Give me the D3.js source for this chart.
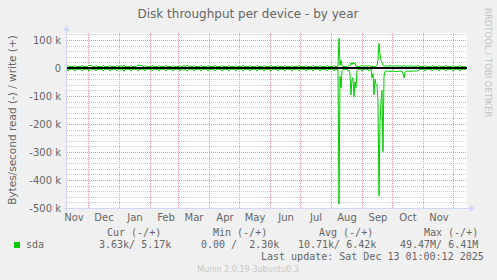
<!DOCTYPE html>
<html>
<head>
<meta charset="utf-8">
<script src="https://cdn.jsdelivr.net/npm/d3@7"></script>
<style>
  body { margin: 0; background: #f0f0f0; }
  text { white-space: pre; }
</style>
</head>
<body>
<div id="chart"></div>
<script>
// one value per day (k bytes/s), first day is 2024-11-10
var firstDay = Date.UTC(2024, 10, 10);

// write (+), one row per week
var writeK = [5,
  9,5,6,5,5,6,5,   9,5,5,6,5,5,6,   9,6,5,5,6,5,5,   10,9,9,8,5,6,5,
  9,5,6,5,5,6,5,   9,6,5,5,6,5,5,   9,5,5,6,5,5,6,   9,6,5,5,10,6,5,
  11,5,6,5,5,6,5,  9,6,5,5,6,5,9,   10,9,10,9,8,6,5, 9,5,6,5,5,6,5,
  9,6,5,5,6,5,5,   9,5,5,6,5,5,6,   9,6,5,5,6,5,5,   9,5,6,5,5,6,5,
  9,5,5,6,10,5,6,  9,10,5,5,6,5,5,  9,5,6,5,5,6,5,   9,6,5,5,6,5,5,
  9,5,5,6,5,5,6,   9,6,5,5,6,5,5,   9,5,6,5,5,6,5,   9,6,5,5,6,5,5,
  9,5,5,6,5,5,6,   9,6,5,5,6,5,5,   9,5,6,5,5,6,5,   9,6,5,5,6,5,5,
  9,5,5,6,5,5,6,   9,6,5,5,6,5,5,   9,5,6,5,5,6,5,   9,6,5,5,6,5,5,
  9,5,5,6,5,5,6,   9,6,5,5,6,5,5,   9,5,6,5,5,6,5,   9,6,5,5,6,5,5,
  9,5,5,6,5,5,6,   9,6,5,5,6,5,5,
  9,5,5,4,6,106,10, 28,8,6,5,5,4,5,  9,6,10,18,12,20,15, 18,5,8,6,5,7,6,
  9,7,8,6,8,7,6,   9,6,7,6,5,6,5,   6,8,30,88,50,28,20, 10,5,8,7,8,6,7,
  9,7,8,6,7,8,7,   9,6,7,8,6,7,6,   9,7,6,8,7,6,7,   9,6,7,6,7,6,6,
  9,6,5,6,5,6,5,   9,5,6,5,5,6,5,   9,6,5,5,6,5,5,   9,5,5,6,5,5,6,
  9,6,5,5,6,5,5,   9,5,6,5,5,6,5,   9,6,5,5,6,5,5];

// read (-), one row per week
var readK = [4,
  11,4,5,4,4,5,4,  11,4,4,5,4,4,5,  11,5,4,4,5,4,4,  11,5,4,4,5,4,4,
  11,4,5,4,4,5,4,  11,5,4,4,5,4,4,  11,4,4,5,4,4,5,  11,5,4,4,9,5,4,
  12,4,5,4,4,5,4,  11,5,4,4,5,4,4,  11,4,5,4,4,5,4,  11,4,5,4,4,5,4,
  11,5,4,4,5,4,4,  11,4,4,5,4,4,5,  11,5,4,4,5,4,4,  11,4,5,4,4,5,4,
  11,4,4,5,9,4,5,  11,9,4,4,5,4,4,  11,4,5,4,4,5,4,  11,5,4,4,5,4,4,
  11,4,4,5,4,4,5,  11,5,4,4,5,4,4,  11,4,5,4,4,5,4,  11,5,4,4,5,4,4,
  11,4,4,5,4,4,5,  11,5,4,4,5,4,4,  11,4,5,4,4,5,4,  11,5,4,4,5,4,4,
  11,4,4,5,4,4,5,  11,5,4,4,5,4,4,  11,4,5,4,4,5,4,  11,5,4,4,5,4,4,
  11,4,4,5,4,4,5,  11,5,4,4,5,4,4,  11,4,5,4,4,5,4,  11,5,4,4,5,4,4,
  11,4,4,5,4,4,5,  11,5,4,4,5,4,4,
  11,4,4,5,6,486,30, 71,10,6,5,4,5,4, 11,8,20,96,40,35,103, 50,71,10,5,4,5,4,
  11,4,5,4,5,4,5,  11,5,4,35,20,96,40, 60,60,120,456,200,120,80, 299,30,12,10,11,12,10,
  14,11,12,10,11,13,12, 14,11,12,10,12,11,20, 35,15,12,11,10,12,11, 12,10,11,12,10,11,10,
  11,5,4,5,4,5,4,  11,4,5,4,4,5,4,  11,5,4,4,5,4,4,  11,4,4,5,4,4,5,
  11,5,4,4,5,4,4,  11,4,5,4,4,5,4,  11,5,4,4,5,4,4];

var yTicks = [100000, 0, -100000, -200000, -300000, -400000, -500000];
var yTickLabels = ["100 k", "0", "-100 k", "-200 k", "-300 k", "-400 k", "-500 k"];
var monthLabels = ["Nov","Dec","Jan","Feb","Mar","Apr","May","Jun","Jul","Aug","Sep","Oct","Nov"];

var seriesName = "sda";
var legendHeaders = ["Cur (-/+)", "Min (-/+)", "Avg (-/+)", "Max (-/+)"];
var legendValues = ["3.63k/ 5.17k", "0.00 /  2.30k", "10.71k/ 6.42k", "49.47M/ 6.41M"];

var W = 497, H = 280;
var plotL = 67, plotR = 467, plotT = 33, plotB = 208;
var green = "#00cc00", fontCol = "#666", axisCol = "#cfd6f8";

var svg = d3.select("#chart").append("svg")
    .attr("width", W).attr("height", H)
    .style("font-family", "'DejaVu Sans', sans-serif");

svg.append("rect").attr("width", W).attr("height", H).attr("fill", "#f0f0f0");
svg.append("rect")
    .attr("x", plotL).attr("y", plotT)
    .attr("width", plotR - plotL).attr("height", plotB - plotT)
    .attr("fill", "#fff");

var days = writeK.map(function(d, i) { return new Date(firstDay + i * 864e5); });

var x = d3.scaleUtc()
    .domain([new Date(firstDay), new Date(firstDay + 400 * 864e5)])
    .range([plotL, plotR]);
var y = d3.scaleLinear()
    .domain([-500000, 125000])
    .range([plotB, plotT]);

// minor grid, every 20 k
svg.append("g").selectAll("line")
    .data(d3.range(-480000, 125000, 20000).filter(function(v) { return v % 100000 != 0; }))
    .enter().append("line")
    .attr("x1", plotL).attr("x2", plotR)
    .attr("y1", d => Math.round(y(d)) + 0.5).attr("y2", d => Math.round(y(d)) + 0.5)
    .attr("stroke", "#c8c8c8").attr("stroke-dasharray", "1,1");

// major grid
svg.append("g").selectAll("line")
    .data(yTicks)
    .enter().append("line")
    .attr("x1", plotL).attr("x2", plotR)
    .attr("y1", d => Math.round(y(d)) + 0.5).attr("y2", d => Math.round(y(d)) + 0.5)
    .attr("stroke", "#eb9595").attr("stroke-dasharray", "1,1");

var months = d3.utcMonth.range(new Date(Date.UTC(2024, 10, 1)), x.domain()[1]);
svg.append("g").selectAll("line")
    .data(months.filter(m => x(m) > plotL))
    .enter().append("line")
    .attr("x1", d => Math.round(x(d)) + 0.5).attr("x2", d => Math.round(x(d)) + 0.5)
    .attr("y1", plotT).attr("y2", plotB)
    .attr("stroke", "#eb9595").attr("stroke-dasharray", "1,1");

// y tick labels
svg.append("g").selectAll("text")
    .data(yTicks)
    .enter().append("text")
    .attr("x", 61).attr("y", d => y(d) + 3.5)
    .attr("text-anchor", "end")
    .attr("font-size", 10).attr("fill", fontCol)
    .text((d, i) => yTickLabels[i]);

// month labels, in the middle of each month
svg.append("g").selectAll("text")
    .data(months.slice(0, monthLabels.length))
    .enter().append("text")
    .attr("x", d => x(d3.utcDay.offset(d, 16)))
    .attr("y", 220.5)
    .attr("text-anchor", "middle")
    .attr("font-size", 10).attr("fill", fontCol)
    .text((d, i) => monthLabels[i]);

// data lines
var line = d3.line()
    .x((d, i) => x(days[i]))
    .y(d => y(d));

svg.append("path")
    .datum(readK.map(v => -v * 1000))
    .attr("fill", "none").attr("stroke", green).attr("stroke-width", 1)
    .attr("d", line);
svg.append("path")
    .datum(writeK.map(v => v * 1000))
    .attr("fill", "none").attr("stroke", green).attr("stroke-width", 1)
    .attr("d", line);

// zero line
svg.append("line")
    .attr("x1", plotL).attr("x2", plotR)
    .attr("y1", y(0)).attr("y2", y(0))
    .attr("stroke", "#000").attr("stroke-width", 2);

// axes with arrows
svg.append("line")
    .attr("x1", plotL - 0.5).attr("x2", plotL - 0.5)
    .attr("y1", plotB + 4).attr("y2", plotT - 3)
    .attr("stroke", axisCol);
svg.append("path")
    .attr("d", "M" + (plotL - 4) + "," + (plotT - 2) + "L" + (plotL - 0.5) + "," + (plotT - 7) + "L" + (plotL + 3) + "," + (plotT - 2) + "Z")
    .attr("fill", axisCol);
svg.append("line")
    .attr("x1", plotL - 3).attr("x2", plotR + 4)
    .attr("y1", plotB + 0.5).attr("y2", plotB + 0.5)
    .attr("stroke", axisCol);
svg.append("path")
    .attr("d", "M" + (plotR + 3) + "," + (plotB - 3) + "L" + (plotR + 8) + "," + (plotB + 0.5) + "L" + (plotR + 3) + "," + (plotB + 4) + "Z")
    .attr("fill", axisCol);

// title and axis label
svg.append("text")
    .attr("x", 248).attr("y", 18)
    .attr("text-anchor", "middle")
    .attr("font-size", 12).attr("fill", fontCol)
    .text("Disk throughput per device - by year");

svg.append("text")
    .attr("transform", "translate(16,120) rotate(-90)")
    .attr("text-anchor", "middle")
    .attr("font-size", 10.5).attr("fill", fontCol)
    .text("Bytes/second read (-) / write (+)");

svg.append("text")
    .attr("transform", "translate(485,8) rotate(90)")
    .attr("font-size", 8.5).attr("fill", "#c4c4c4")
    .text("RRDTOOL / TOBI OETIKER");

// legend
var mono = "'DejaVu Sans Mono', monospace";
var headX = [107, 213, 319, 424];
var valX = [99, 201, 298, 400];

svg.append("g").selectAll("text")
    .data(legendHeaders)
    .enter().append("text")
    .attr("x", (d, i) => headX[i]).attr("y", 236)
    .attr("font-family", mono).attr("font-size", 10).attr("fill", fontCol)
    .text(d => d);

svg.append("rect")
    .attr("x", 14).attr("y", 242).attr("width", 6).attr("height", 6)
    .attr("fill", green);
svg.append("text")
    .attr("x", 26).attr("y", 248)
    .attr("font-family", mono).attr("font-size", 10).attr("fill", fontCol)
    .text(seriesName);

svg.append("g").selectAll("text")
    .data(legendValues)
    .enter().append("text")
    .attr("x", (d, i) => valX[i]).attr("y", 248)
    .attr("font-family", mono).attr("font-size", 10).attr("fill", fontCol)
    .text(d => d);

svg.append("text")
    .attr("x", 261).attr("y", 260)
    .attr("font-family", mono).attr("font-size", 10).attr("fill", fontCol)
    .text("Last update: Sat Dec 13 01:00:12 2025");

svg.append("text")
    .attr("x", 248).attr("y", 272)
    .attr("text-anchor", "middle")
    .attr("font-size", 8).attr("fill", "#c8c8c8")
    .text("Munin 2.0.19-3ubuntu0.3");
</script>
</body>
</html>
